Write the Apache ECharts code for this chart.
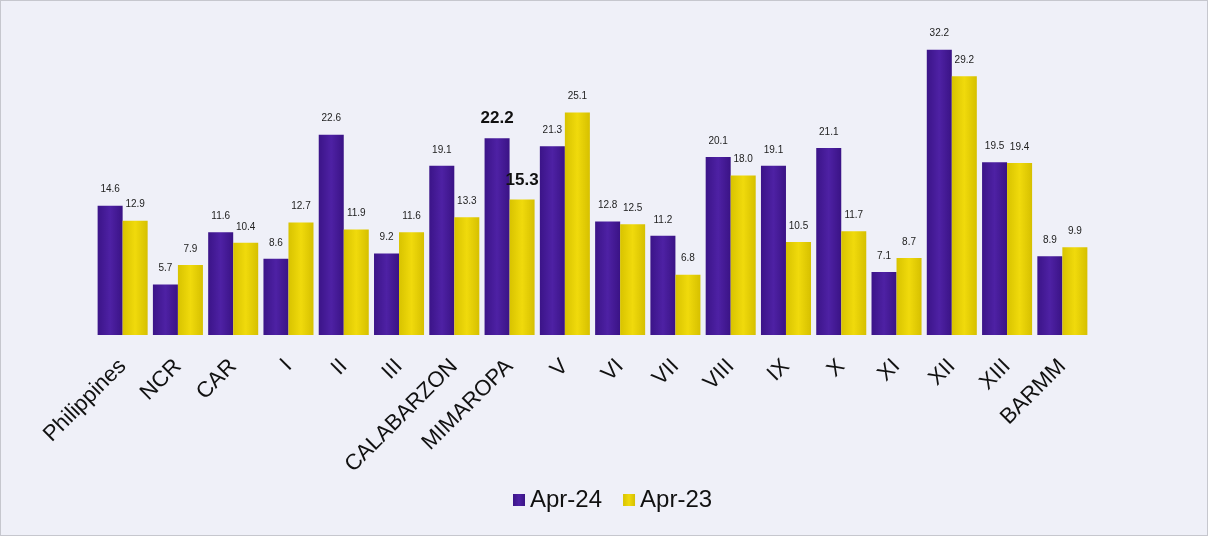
<!DOCTYPE html>
<html><head><meta charset="utf-8">
<script src="https://cdn.jsdelivr.net/npm/echarts@6/dist/echarts.min.js"></script>
<style>
html,body{margin:0;padding:0;background:#eff0f7;}
#c{width:1208px;height:536px;box-sizing:border-box;border:1px solid #c6c7ce;background:#eff0f8;}
</style></head>
<body><div id="c"></div>
<script>
const categories = ['Philippines','NCR','CAR','I','II','III','CALABARZON','MIMAROPA','V','VI','VII','VIII','IX','X','XI','XII','XIII','BARMM'];
const apr24 = [14.6,5.7,11.6,8.6,22.6,9.2,19.1,22.2,21.3,12.8,11.2,20.1,19.1,21.1,7.1,32.2,19.5,8.9];
const apr23 = [12.9,7.9,10.4,12.7,11.9,11.6,13.3,15.3,25.1,12.5,6.8,18.0,10.5,11.7,8.7,29.2,19.4,9.9];
const seriesNames = ['Apr-24','Apr-23'];
const highlightIndex = 7;

const purple = new echarts.graphic.LinearGradient(0,0,1,0,[
  {offset:0,color:'#3b1488'},{offset:0.5,color:'#4e21a4'},{offset:1,color:'#3a1385'}]);
const yellow = new echarts.graphic.LinearGradient(0,0,1,0,[
  {offset:0,color:'#d8c300'},{offset:0.5,color:'#f0da0c'},{offset:1,color:'#d6c000'}]);

function mk(vals){
  return vals.map((v,i)=>{
    const d = {value:v};
    if(i===highlightIndex){
      d.label = {fontSize:17,fontWeight:'bold',color:'#111'};
    }
    return d;
  });
}

const lbl = {show:true,position:'top',distance:11,fontSize:10,color:'#222',formatter:p=>p.value.toFixed(1)};

const chart = echarts.init(document.getElementById('c'));
chart.setOption({
  animation:false,
  backgroundColor:'#eff0f8',
  textStyle:{fontFamily:'Liberation Sans, Arial, sans-serif'},
  grid:{left:94,right:117,top:15,bottom:200},
  legend:{
    data:seriesNames, top:482, left:507,
    itemWidth:12,itemHeight:12,itemGap:21,
    icon:'rect',
    textStyle:{fontSize:24,color:'#111'}
  },
  xAxis:{
    type:'category', data:categories,
    axisLine:{show:false}, axisTick:{show:false},
    axisLabel:{rotate:45,fontSize:22,color:'#111',margin:28,interval:0}
  },
  yAxis:{type:'value',min:0,max:36,show:false,splitLine:{show:false}},
  series:[
    {name:seriesNames[0],type:'bar',data:mk(apr24),barGap:'0%',barCategoryGap:'9.5%',
     itemStyle:{color:purple},label:lbl},
    {name:seriesNames[1],type:'bar',data:mk(apr23),
     itemStyle:{color:yellow},label:lbl}
  ]
});
</script></body></html>
